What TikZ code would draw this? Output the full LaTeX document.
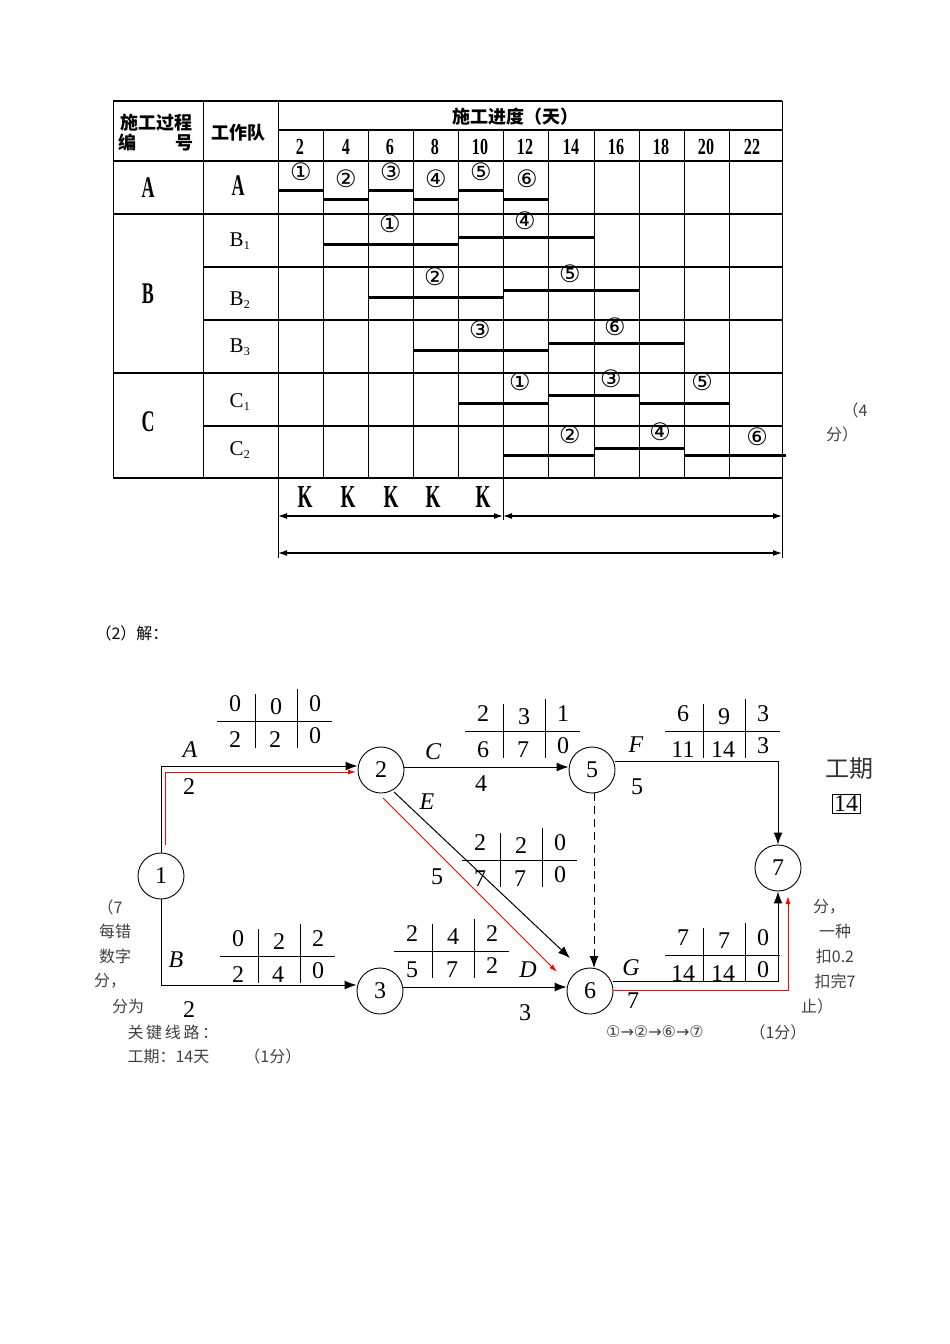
\documentclass[tikz,border=0pt]{standalone}
\usepackage{fontspec}
\setmainfont{Liberation Serif}
\newfontfamily\cjk{Noto Sans CJK SC}
\newfontfamily\dvs{DejaVu Sans}
\usetikzlibrary{arrows.meta}
\newcommand{\fsz}[1]{\fontsize{#1}{#1}\selectfont}
\begin{document}
\begin{tikzpicture}[x=1pt,y=-1pt,
  thinl/.style={line width=0.9pt},
  thickl/.style={line width=2.2pt},
  barl/.style={line width=3pt},
  hdr/.style={font=\cjk\bfseries\fsz{18}},
  daynum/.style={font=\bfseries\fsz{23},xscale=0.7},
  big/.style={font=\bfseries\fsz{30},xscale=0.6},
  cnum/.style={font=\dvs\fsz{24}},
  sub/.style={font=\fsz{21}},
  num/.style={font=\fsz{24}},
  lab/.style={font=\itshape\fsz{24}},
  note/.style={font=\cjk\fsz{16},text=black!75},
  circ/.style={draw,circle,minimum size=46pt,inner sep=0pt,font=\fsz{24},line width=0.9pt},
  arr/.style={line width=1pt,-{Latex[length=12pt,width=9pt]}},
  rarr/.style={line width=1pt,red,-{Latex[length=8pt,width=5pt]}},
  dim/.style={line width=1.2pt,{Latex[length=9pt,width=6pt]}-{Latex[length=9pt,width=6pt]}}]
\useasboundingbox (0,0) rectangle (950,1344);
% ---------- table ----------
\foreach \x in {113,203,278,323,368,413,458,503,548,594,639,684,729,782}
  {\draw[thinl] (\x,130) -- (\x,478);}
\foreach \x in {113,203,278,782} {\draw[thinl] (\x,101) -- (\x,130);}
\draw[thickl] (113,101) -- (782,101);
\draw[thickl] (278,130) -- (782,130);
\foreach \y in {161,214,373,478} {\draw[thickl] (113,\y) -- (782,\y);}
\foreach \y in {267,320,426} {\draw[thickl] (203,\y) -- (782,\y);}
\node[hdr] (h1) at (156,123) {施工过程};
\node[hdr] (h2) at (156,143) {编\hspace{2.2em}号};
\node[hdr] (h3) at (238,133) {工作队};
\node[hdr] (h4) at (515,117) {施工进度（天）};
\foreach \x/\t in {300/2,346/4,390/6,435/8,480/10,525/12,571/14,616/16,661/18,706/20,752/22}
  {\node[daynum] at (\x,147) {\t};}
\node[big] (pA) at (148,188) {A};
\node[big] (tA) at (238,186) {A};
\node[big] (pB) at (148,294) {B};
\node[big] (pC) at (148,422) {C};
\node[sub] (b1) at (240,241) {B\textsubscript{\fsz{12}1}};
\node[sub] (b2) at (240,300) {B\textsubscript{\fsz{12}2}};
\node[sub] (b3) at (240,347) {B\textsubscript{\fsz{12}3}};
\node[sub] (c1) at (240,402) {C\textsubscript{\fsz{12}1}};
\node[sub] (c2) at (240,450) {C\textsubscript{\fsz{12}2}};
% bars
\foreach \a/\b/\y in {278/323/190,323/368/199,368/413/190,413/458/199,458/503/190,503/548/199,
  323/458/244,458/594/237,368/503/297,503/639/290,413/548/350,548/684/343,
  458/548/403,548/639/395,639/729/403,503/594/455,594/684/448,684/786/455}
  {\draw[barl] (\a,\y) -- (\b,\y);}
\foreach \x/\y/\t in {301/172/①,346/179/②,391/172/③,436/179/④,481/172/⑤,527/179/⑥,
  390/224/①,525/221/④,435/277/②,570/274/⑤,480/330/③,615/327/⑥,
  520/382/①,611/379/③,702/382/⑤,570/435/②,660/432/④,757/437/⑥}
  {\node[cnum] at (\x,\y) {\t};}
% K and dimension lines
\foreach \x in {305,348,391,433,483} {\node[big,font=\bfseries\fsz{32}] at (\x,497) {K};}
\draw[thinl] (278,478) -- (278,558);
\draw[thinl] (503,478) -- (503,520);
\draw[thinl] (782,478) -- (782,558);
\coordinate (d1) at (278,516); \coordinate (d2) at (503,516); \coordinate (d3) at (782,516);
\coordinate (e1) at (278,553); \coordinate (e2) at (782,553);
\draw[dim] (d1) -- (d2); \draw[dim] (d2) -- (d3); \draw[dim] (e1) -- (e2);
\node[note] at (855,410) {（4};
\node[note] at (842,434) {分）};
\node[note,text=black,anchor=west] at (92,633) {（2）解：};
% ---------- network ----------
\node[circ] (n1) at (161,876) {1};
\node[circ] (n2) at (381,770) {2};
\node[circ] (n5) at (592,770) {5};
\node[circ] (n7) at (778,868) {7};
\node[circ] (n3) at (380,991) {3};
\node[circ] (n6) at (590,991) {6};
% A
\draw[arr] (n1.north) -- (161,766) -- (n2.west |- 0,766);
\draw[rarr] (165,845) -- (165,772) -- (356,772);
\node[lab] at (190,750) {A}; \node[num] at (189,787) {2};
% C
\draw[arr] (n2.east |- 0,767) -- (n5.west |- 0,767);
\node[lab] at (433,752) {C}; \node[num] at (481,784) {4};
% F
\draw[arr] (n5.east |- 0,761) -- (778,761) -- (n7.north);
\node[lab] at (636,745) {F}; \node[num] at (637,787) {5};
% E
\draw[arr] (394,792) -- (570,958);
\draw[rarr] (383,798) -- (557,972);
\node[lab] at (427,802) {E}; \node[num] at (437,877) {5};
% dummy
\draw[arr,dash pattern=on 8pt off 5pt] (n5.south -| 594,0) -- (594,968);
% B
\draw[arr] (n1.south) -- (161,985) -- (n3.west |- 0,985);
\node[lab] at (176,960) {B}; \node[num] at (189,1010) {2};
% D
\draw[arr] (n3.east |- 0,987) -- (n6.west |- 0,987);
\node[lab] at (528,970) {D}; \node[num] at (525,1013) {3};
% G
\draw[arr] (n6.east |- 0,981) -- (778,981) -- (n7.south);
\draw[rarr] (613,990) -- (788,990) -- (788,896);
\node[lab] at (631,968) {G}; \node[num] at (633,1001) {7};
% time-parameter crosses
\newcommand{\tcross}[8]{%
 \draw[thinl] (#1-55,#2) -- (#1+60,#2);
 \draw[thinl] (#1-17,#2-27) -- (#1-17,#2+27);
 \draw[thinl] (#1+25,#2-32) -- (#1+25,#2+27);
 \node[num] at (#1-37,#2-17) {#3}; \node[num] at (#1+4,#2-14) {#4}; \node[num] at (#1+43,#2-17) {#5};
 \node[num] at (#1-37,#2+19) {#6}; \node[num] at (#1+3,#2+19) {#7}; \node[num] at (#1+43,#2+15) {#8};}
\tcross{272}{721}{0}{0}{0}{2}{2}{0}
\tcross{520}{731}{2}{3}{1}{6}{7}{0}
\tcross{720}{731}{6}{9}{3}{11}{14}{3}
\tcross{517}{860}{2}{2}{0}{7}{7}{0}
\tcross{275}{956}{0}{2}{2}{2}{4}{0}
\tcross{449}{951}{2}{4}{2}{5}{7}{2}
\tcross{720}{955}{7}{7}{0}{14}{14}{0}
% duration
\node[font=\cjk\fsz{24},text=black!80] at (849,769) {工期};
\node[draw,thinl,font=\fsz{24},inner sep=2pt] at (846,804) {14};
% notes
\node[note] at (110,907) {（7};
\node[note] at (115,931) {每错};
\node[note] at (115,956) {数字};
\node[note] at (110,981) {分，};
\node[note] at (128,1006) {分为};
\node[note] at (829,907) {分，};
\node[note] at (835,931) {一种};
\node[note] at (835,956) {扣0.2};
\node[note] at (835,981) {扣完7};
\node[note] at (817,1006) {止）};
\node[note,anchor=west] at (124,1032) {关\,键\,线\,路\,：};
\node[note,anchor=west] at (124,1056) {工期：14天\hspace{2.2em}（1分）};
\node[note] at (655,1032) {\dvs ①→②→⑥→⑦};
\node[note] at (778,1032) {（1分）};
\end{tikzpicture}
\end{document}
